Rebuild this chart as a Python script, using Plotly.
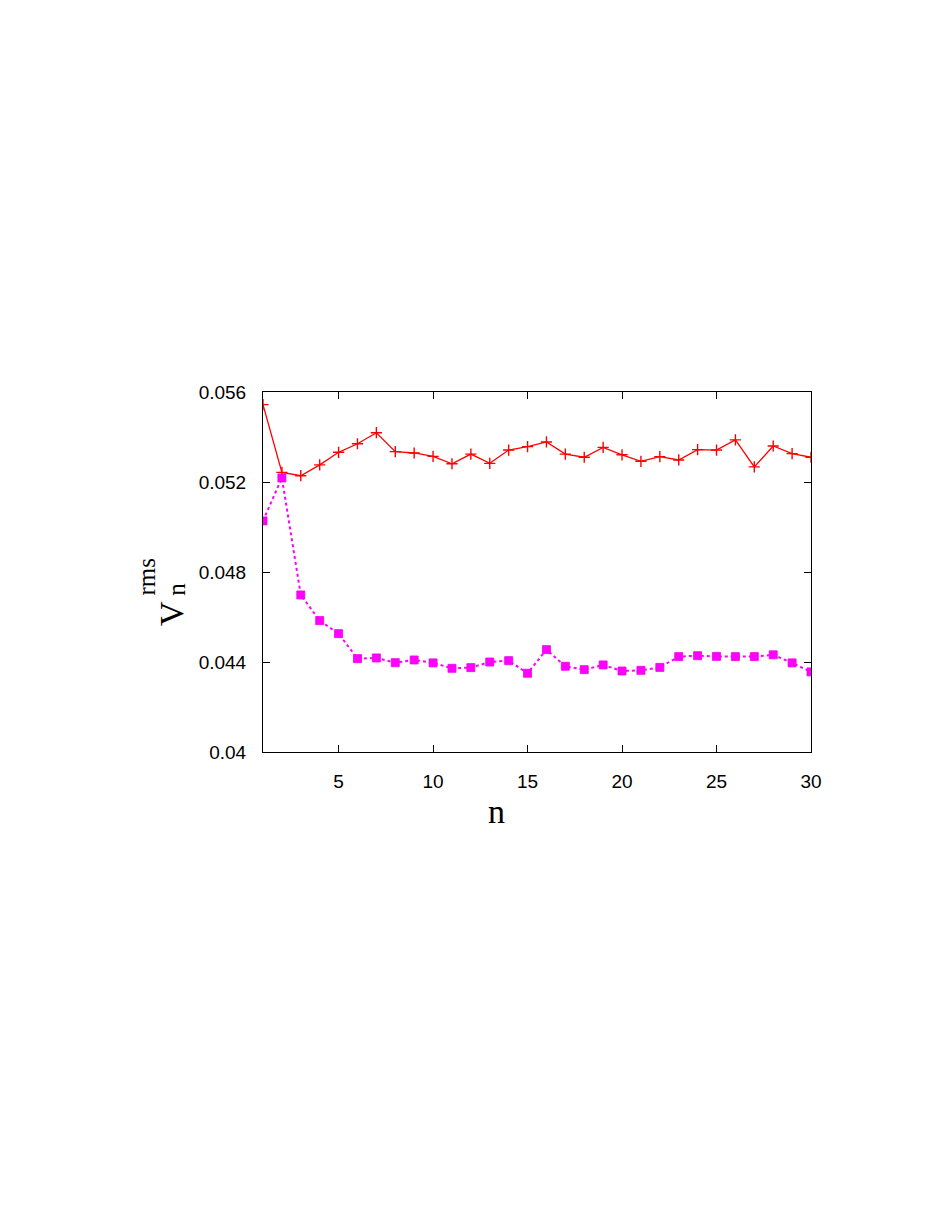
import plotly.graph_objects as go

n_values = list(range(1, 31))
red_series = [0.05544, 0.05243, 0.05228, 0.05276, 0.05332, 0.05370, 0.05419, 0.05335,
              0.05329, 0.05314, 0.05281, 0.05324, 0.05283, 0.05342, 0.05357, 0.05378,
              0.05324, 0.05310, 0.05354, 0.05321, 0.05292, 0.05313, 0.05298, 0.05344,
              0.05342, 0.05387, 0.05267, 0.05360, 0.05326, 0.05310]
magenta_series = [0.05027, 0.05218, 0.04698, 0.04584, 0.04526, 0.04415, 0.04418, 0.04397,
                  0.04409, 0.04396, 0.04372, 0.04375, 0.04400, 0.04406, 0.04350, 0.04455,
                  0.04381, 0.04366, 0.04387, 0.04360, 0.04363, 0.04376, 0.04424, 0.04428,
                  0.04425, 0.04424, 0.04424, 0.04432, 0.04396, 0.04356]
x_tick_vals = [5, 10, 15, 20, 25, 30]
x_tick_text = ["5", "10", "15", "20", "25", "30"]
y_tick_vals = [0.040, 0.044, 0.048, 0.052, 0.056]
y_tick_text = ["0.04", "0.044", "0.048", "0.052", "0.056"]

fig = go.Figure()
fig.add_trace(go.Scatter(
    x=n_values, y=red_series, mode="lines+markers",
    line=dict(color="#ff0000", width=1.3),
    marker=dict(symbol="cross-thin", size=8, color="#ff0000",
                line=dict(color="#ff0000", width=1.4)),
    showlegend=False))
fig.add_trace(go.Scatter(
    x=n_values, y=magenta_series, mode="lines+markers",
    line=dict(color="#ff00ff", width=2, dash="dot"),
    marker=dict(symbol="square", size=8, color="#ff00ff",
                line=dict(color="#ee00ee", width=0.8)),
    showlegend=False))

axis_common = dict(showline=True, linecolor="black", linewidth=1, mirror="allticks",
                   ticks="inside", ticklen=7, tickcolor="black", tickwidth=1,
                   showgrid=False, zeroline=False,
                   tickfont=dict(family="Liberation Sans, Arial", size=19, color="black"))

fig.update_xaxes(range=[1, 30], tickvals=x_tick_vals, ticktext=x_tick_text,
                 ticklabelstandoff=12, **axis_common)
fig.update_yaxes(range=[0.040, 0.056], tickvals=y_tick_vals, ticktext=y_tick_text,
                 ticklabelstandoff=12, **axis_common)

serif = "Liberation Serif, Times New Roman, serif"
annotations = [
    dict(text="n", x=0.426, y=-0.164, xref="paper", yref="paper", showarrow=False,
         xanchor="center", yanchor="middle", font=dict(family=serif, size=34, color="black")),
    dict(text="V", x=-0.168, y=0.386, xref="paper", yref="paper", showarrow=False,
         textangle=-90, xanchor="center", yanchor="middle",
         font=dict(family=serif, size=34, color="black")),
    dict(text="n", x=-0.158, y=0.452, xref="paper", yref="paper", showarrow=False,
         textangle=-90, xanchor="center", yanchor="middle",
         font=dict(family=serif, size=25, color="black")),
    dict(text="rms", x=-0.212, y=0.487, xref="paper", yref="paper", showarrow=False,
         textangle=-90, xanchor="center", yanchor="middle",
         font=dict(family=serif, size=25, color="black")),
]

fig.update_layout(width=947, height=1226,
                  margin=dict(l=255, r=144, t=384, b=482, pad=0),
                  paper_bgcolor="white", plot_bgcolor="white",
                  annotations=annotations)

fig.write_html("out.html")
